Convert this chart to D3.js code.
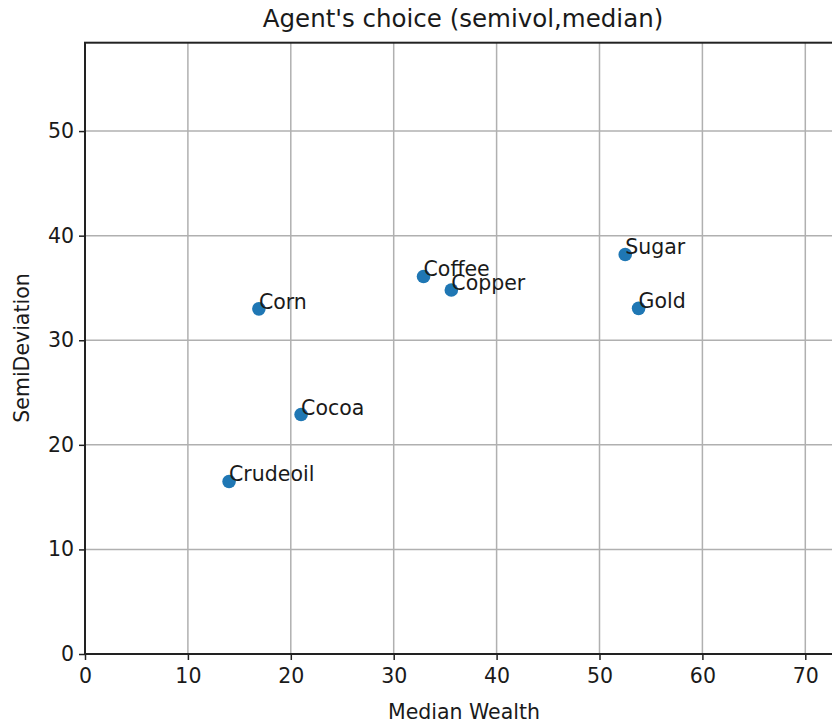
<!DOCTYPE html>
<html>
<head>
<meta charset="utf-8">
<script src="https://cdn.jsdelivr.net/npm/d3@7"></script>
<style>
  body { margin: 0; background: white; overflow: hidden; }
  text { font-family: "DejaVu Sans", sans-serif; fill: #1a1a1a; }
</style>
</head>
<body>
<script>
// Data
const assets = ['Crudeoil', 'Corn', 'Cocoa', 'Coffee', 'Copper', 'Sugar', 'Gold']
const medianWealth = [14.0, 16.9, 21.0, 32.9, 35.6, 52.5, 53.8]
const semiDeviation = [16.5, 33.0, 22.9, 36.1, 34.8, 38.2, 33.05]
const xTicks = [0, 10, 20, 30, 40, 50, 60, 70]
const yTicks = [0, 10, 20, 30, 40, 50]

const width = 832, height = 723
const margin = {left: 85, top: 42.7, bottom: 654}

const x = d3.scaleLinear().domain([0, 76]).range([margin.left, margin.left + 76*10.29])
const y = d3.scaleLinear().domain([0, 58.45]).range([margin.bottom, margin.top])

const svg = d3.select('body').append('svg')
  .attr('width', width).attr('height', height)

// Grid lines
svg.append('g').selectAll('line').data(xTicks).join('line')
  .attr('x1', d => x(d)).attr('x2', d => x(d))
  .attr('y1', y(0)).attr('y2', margin.top)
  .style('stroke', '#b0b0b0').style('stroke-width', 1.5)

svg.append('g').selectAll('line').data(yTicks).join('line')
  .attr('x1', x(0)).attr('x2', x(76))
  .attr('y1', d => y(d)).attr('y2', d => y(d))
  .style('stroke', '#b0b0b0').style('stroke-width', 1.5)

// Axes
const xAxis = svg.append('g')
  .attr('transform', `translate(0, ${margin.bottom})`)
  .call(d3.axisBottom(x).tickValues(xTicks).tickSize(6).tickPadding(8))
const yAxis = svg.append('g')
  .attr('transform', `translate(${margin.left}, 0)`)
  .call(d3.axisLeft(y).tickValues(yTicks).tickSize(6).tickPadding(5))

for (const ax of [xAxis, yAxis]) {
  ax.select('.domain').remove()
  ax.selectAll('line').style('stroke', '#222').style('stroke-width', 1.5)
  ax.selectAll('text').style('font-size', '20.5px').style('font-family', '"DejaVu Sans", sans-serif').style('fill', '#1a1a1a')
}

// Frame
svg.append('rect')
  .attr('x', x(0)).attr('y', margin.top)
  .attr('width', x(76) - x(0)).attr('height', y(0) - margin.top)
  .style('fill', 'none').style('stroke', '#222').style('stroke-width', 2)

// Points
svg.append('g').selectAll('circle').data(assets).join('circle')
  .attr('cx', (d, i) => x(medianWealth[i]))
  .attr('cy', (d, i) => y(semiDeviation[i]))
  .attr('r', 6.8)
  .style('fill', '#1f77b4')

// Labels (annotated at the point, as in the source)
svg.append('g').selectAll('text').data(assets).join('text')
  .attr('x', (d, i) => x(medianWealth[i]))
  .attr('y', (d, i) => y(semiDeviation[i]))
  .style('font-size', '20.5px')
  .text(d => d)

// Title and axis labels
svg.append('text')
  .attr('x', 463).attr('y', 27)
  .attr('text-anchor', 'middle')
  .style('font-size', '24.5px')
  .text("Agent's choice (semivol,median)")

svg.append('text')
  .attr('x', 464).attr('y', 719)
  .attr('text-anchor', 'middle')
  .style('font-size', '20.5px')
  .text('Median Wealth')

svg.append('text')
  .attr('transform', `translate(29, 348) rotate(-90)`)
  .attr('text-anchor', 'middle')
  .style('font-size', '20.5px')
  .text('SemiDeviation')
</script>
</body>
</html>
